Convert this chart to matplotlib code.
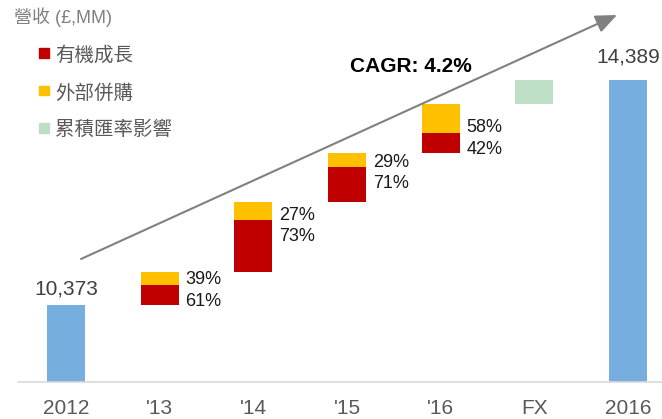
import matplotlib
matplotlib.use("Agg")
import matplotlib.pyplot as plt
from matplotlib.patches import Rectangle
import numpy as np

plt.rcParams['font.family'] = ['Liberation Sans', 'Noto Sans CJK TC', 'DejaVu Sans']

# ---- data ----
categories = ["2012", "'13", "'14", "'15", "'16", "FX", "2016"]
start_value = 10373
end_value = 14389
organic = [362, 916, 608, 370]          # 有機成長
acquisitions = [232, 339, 249, 511]     # 外部併購
fx_effect = 429                          # 累積匯率影響
organic_pct = ["61%", "73%", "71%", "42%"]
acq_pct = ["39%", "27%", "29%", "58%"]
legend_title = "營收 (£,MM)"
legend_labels = ["有機成長", "外部併購", "累積匯率影響"]
cagr_text = "CAGR: 4.2%"

# ---- style ----
C_BLUE = "#75AEDF"
C_RED = "#C00000"
C_YEL = "#FFC000"
C_GRN = "#BDDFC5"
W = 0.405

W_PX, H_PX = 662, 419
fig = plt.figure(figsize=(W_PX / 100, H_PX / 100), dpi=100)
ax = fig.add_axes([18 / W_PX, 37 / H_PX, 644 / W_PX, 382 / H_PX])

x = np.arange(len(categories))

# totals
ax.bar(x[0], start_value - 9000, bottom=9000, width=W, color=C_BLUE)
ax.bar(x[-1], end_value - 9000, bottom=9000, width=W, color=C_BLUE)

# floating increments
base = start_value
for i in range(len(organic)):
    xi = x[i + 1]
    ax.bar(xi, organic[i], bottom=base, width=W, color=C_RED)
    ax.bar(xi, acquisitions[i], bottom=base + organic[i], width=W, color=C_YEL)
    boundary = base + organic[i]
    ax.annotate(acq_pct[i], (xi + W / 2, boundary), xytext=(5, 0.5),
                textcoords="offset points", ha="left", va="baseline",
                fontsize=13, color="#1a1a1a")
    ax.annotate(organic_pct[i], (xi + W / 2, boundary), xytext=(5, -15),
                textcoords="offset points", ha="left", va="baseline",
                fontsize=13, color="#1a1a1a")
    base = boundary + acquisitions[i]

ax.bar(x[5], fx_effect, bottom=base, width=W, color=C_GRN)

# value labels
ax.annotate(f"{start_value:,}", (x[0], start_value), xytext=(0, 7.7),
            textcoords="offset points", ha="center", va="baseline",
            fontsize=15, color="#404040")
ax.annotate(f"{end_value:,}", (x[-1], end_value), xytext=(0, 12.7),
            textcoords="offset points", ha="center", va="baseline",
            fontsize=15, color="#404040")

ax.set_xlim(-0.512, 6.363)
ax.set_ylim(9000, 15819)
ax.set_xticks(x)
ax.set_xticklabels(categories, fontsize=15, color="#595959")
ax.tick_params(axis="x", length=0, pad=12)
ax.set_yticks([])
for s in ["top", "left", "right"]:
    ax.spines[s].set_visible(False)
ax.spines["bottom"].set_color("#D9D9D9")
ax.spines["bottom"].set_linewidth(1.2)
ax.patch.set_alpha(0)

# CAGR arrow
ax.annotate("", xy=((617 - 18) / 644, (382 - 15) / 382),
            xytext=((81 - 18) / 644, (382 - 259) / 382),
            xycoords="axes fraction", textcoords="axes fraction",
            arrowprops=dict(arrowstyle="-|>,head_length=1.3,head_width=0.55",
                            color="#808080", lw=1.5, shrinkA=0, shrinkB=0))
fig.text(411 / W_PX, 1 - 72.5 / H_PX, cagr_text, ha="center", va="baseline",
         fontsize=15, fontweight="bold", color="black")

# legend (manual)
fig.text(14 / W_PX, 1 - 22.7 / H_PX, legend_title, ha="left", va="baseline",
         fontsize=13, color="#808080")
leg_colors = [C_RED, C_YEL, C_GRN]
leg_centers = [53, 90.5, 128]
leg_base = [61.2, 98.5, 135.2]
for c, yc, yb, lab in zip(leg_colors, leg_centers, leg_base, legend_labels):
    fig.patches.append(Rectangle((39 / W_PX, 1 - (yc + 4.7) / H_PX),
                                 9.5 / W_PX, 9.5 / H_PX, color=c,
                                 transform=fig.transFigure, figure=fig))
    fig.text(55 / W_PX, 1 - yb / H_PX, lab, ha="left", va="baseline",
             fontsize=14, color="#595959")

fig.savefig("out.png", dpi=100)
